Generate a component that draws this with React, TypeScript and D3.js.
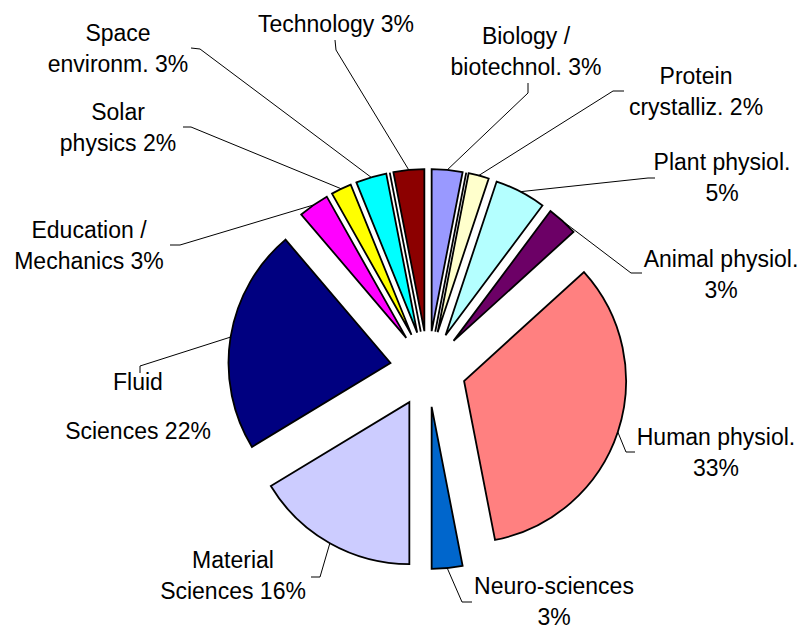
import { useEffect, useRef } from 'react'
import * as d3 from 'd3'

const W = 805, H = 630
const CX = 428, CY = 369, R = 162, EXPLODE = 38
const FONT = 'Liberation Sans, Arial, sans-serif'

// clockwise from 12 o'clock; the two 0 entries are empty categories drawn as lines
const categories = [
  'Biology /\nbiotechnol.', '', 'Protein\ncrystalliz.', 'Plant physiol.\n', 'Animal physiol.\n',
  'Human physiol.\n', 'Neuro-sciences\n', 'Material\nSciences', 'Fluid\nSciences',
  'Education /\nMechanics', 'Solar\nphysics', 'Space\nenvironm.', '', 'Technology',
]
const shares = [3, 0, 2, 5, 3, 33, 3, 16, 22, 3, 2, 3, 0, 3]
const colors = [
  '#9999FF', '#993366', '#FFFFCC', '#B4FFFF', '#6C0066', '#FF8080', '#0066CC',
  '#CCCCFF', '#000080', '#FF00FF', '#FFFF00', '#00FFFF', '#800080', '#8C0000',
]

// label placement: text centre + first baseline, leader elbow and end
type Place = { x: number; y: number; lh?: number; elbow: [number, number]; end: [number, number] } | null
const placements: Place[] = [
  { x: 526, y: 44, elbow: [528, 93], end: [528, 83] },
  null,
  { x: 696, y: 84, elbow: [613, 91], end: [624, 91] },
  { x: 722, y: 170, elbow: [648, 178], end: [655, 178] },
  { x: 721, y: 267, elbow: [631, 273], end: [642, 273] },
  { x: 716, y: 445, elbow: [626, 452], end: [635, 452] },
  { x: 554, y: 594, elbow: [462, 602], end: [472, 602] },
  { x: 233, y: 568, elbow: [320, 577], end: [311, 577] },
  { x: 138, y: 390, lh: 49, elbow: [140, 366], end: [140, 373] },
  { x: 89, y: 238, elbow: [180, 245], end: [170, 245] },
  { x: 118, y: 120, elbow: [191, 127], end: [183, 127] },
  { x: 118, y: 41, elbow: [200, 49], end: [191, 48] },
  null,
  { x: 336, y: 32, elbow: [336, 50], end: [335, 40] },
]

const LINE_H = 30.5

export default function App() {
  const svgRef = useRef<SVGSVGElement>(null)

  useEffect(() => {
    const svg = d3.select(svgRef.current!)
    svg.selectAll('*').remove()

    const pie = d3.pie<number>().sort(null).value(d => d)
    const arcs = pie(shares)
    const arc = d3.arc<d3.PieArcDatum<number>>().innerRadius(0).outerRadius(R)
    const rim = d3.arc<d3.PieArcDatum<number>>().innerRadius(R).outerRadius(R)

    const offset = (d: d3.PieArcDatum<number>) => {
      const a = (d.startAngle + d.endAngle) / 2
      return [CX + EXPLODE * Math.sin(a), CY - EXPLODE * Math.cos(a)]
    }

    const g = svg.append('g')

    // slices
    g.selectAll('path.slice').data(arcs).join('path')
      .attr('class', 'slice')
      .attr('transform', d => `translate(${offset(d).join(',')})`)
      .attr('d', arc)
      .attr('fill', (_, i) => colors[i])
      .attr('stroke', '#000')
      .attr('stroke-width', 1.8)
      .attr('stroke-linejoin', 'miter')

    // leader lines
    const line = d3.line()
    arcs.forEach((d, i) => {
      const p = placements[i]
      if (!p) return
      const [ox, oy] = offset(d)
      const [rx, ry] = rim.centroid(d)
      g.append('path')
        .attr('d', line([[ox + rx, oy + ry], p.elbow, p.end]))
        .attr('fill', 'none')
        .attr('stroke', '#000')
        .attr('stroke-width', 1)
    })

    // labels
    arcs.forEach((d, i) => {
      const p = placements[i]
      if (!p) return
      const parts = categories[i].split('\n')
      const last = parts.length - 1
      parts[last] = parts[last] ? `${parts[last]} ${shares[i]}%` : `${shares[i]}%`
      const t = g.append('text')
        .attr('text-anchor', 'middle')
        .attr('font-family', FONT)
        .attr('font-size', 23)
        .attr('fill', '#000')
      parts.forEach((s, k) => {
        t.append('tspan').attr('x', p.x).attr('y', p.y + k * (p.lh ?? LINE_H)).text(s)
      })
    })
  }, [])

  return (
    <svg
      ref={svgRef}
      width={W}
      height={H}
      viewBox={`0 0 ${W} ${H}`}
      style={{ position: 'absolute', left: 0, top: 0, background: '#fff' }}
    />
  )
}
